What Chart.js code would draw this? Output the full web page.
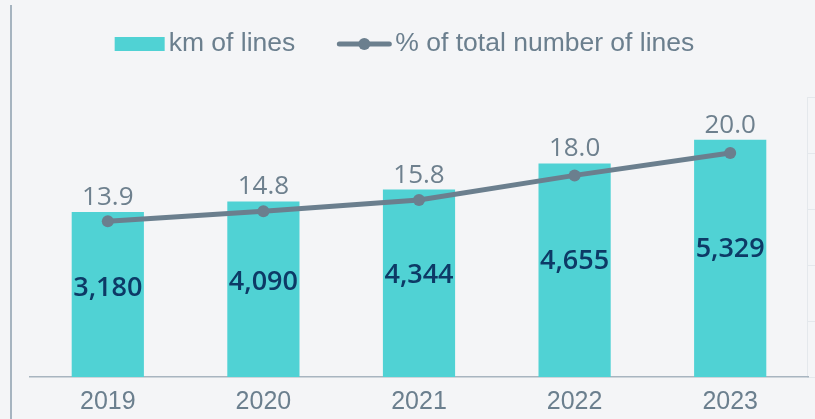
<!DOCTYPE html>
<html>
<head>
<meta charset="utf-8">
<script src="https://cdn.jsdelivr.net/npm/chart.js@4.4.1/dist/chart.umd.min.js"></script>
<style>
  html, body { margin: 0; padding: 0; background: #f4f5f7; }
  #wrap { position: relative; width: 815px; height: 419px; }
</style>
</head>
<body>
<div id="wrap"><canvas id="linesChart" width="815" height="419"></canvas></div>
<script>
var years = ["2019", "2020", "2021", "2022", "2023"];
var kmOfLines = [3180, 4090, 4344, 4655, 5329];
var pctOfLines = [13.9, 14.8, 15.8, 18.0, 20.0];
var pctTicks = [0, 5, 10, 15, 20, 25];

var barColor = "#50d2d4";
var lineColor = "#6b7f8e";

// value labels + legend + left rule, drawn on the canvas
var labelsPlugin = {
  id: 'valueLabels',
  beforeDraw: function(chart) {
    var c = chart.ctx, area = chart.chartArea, y2 = chart.scales.y2;
    c.save();
    // left vertical rule
    c.strokeStyle = "#8d9eae";
    c.lineWidth = 1.5;
    c.beginPath();
    c.moveTo(11, 5);
    c.lineTo(11, chart.height);
    c.stroke();
    // faint box on the right edge
    c.strokeStyle = "#e4e8ec";
    c.lineWidth = 1;
    pctTicks.forEach(function(t) {
      var py = Math.round(y2.getPixelForValue(t)) + 0.5;
      c.beginPath();
      c.moveTo(area.right - 1, py);
      c.lineTo(chart.width, py);
      c.stroke();
    });
    c.beginPath();
    c.moveTo(area.right - 0.5, y2.getPixelForValue(25));
    c.lineTo(area.right - 0.5, area.bottom);
    c.stroke();
    c.restore();
  },
  afterDatasetsDraw: function(chart) {
    var c = chart.ctx;
    var bars = chart.getDatasetMeta(1).data;
    c.save();
    c.textAlign = "center";
    bars.forEach(function(bar, i) {
      c.fillStyle = "#6e808e";
      c.font = "500 26px 'Open Sans'";
      c.textBaseline = "alphabetic";
      c.fillText(pctOfLines[i].toFixed(1), bar.x, bar.y - 7);

      c.fillStyle = "#0d3a66";
      c.font = "600 27px 'Open Sans'";
      c.textBaseline = "middle";
      c.fillText(kmOfLines[i].toLocaleString("en-US"), bar.x, bar.y + (bar.base - bar.y) * 0.46);
    });

    // legend
    var ds = chart.data.datasets;
    c.font = "26.5px 'Liberation Sans'";
    c.textBaseline = "middle";
    c.textAlign = "left";
    var ly = 44, boxW = 50, lineW = 54, gap = 4, itemGap = 42;
    var w1 = c.measureText(ds[1].label).width;
    var w2 = c.measureText(ds[0].label).width;
    var total = boxW + gap + w1 + itemGap + lineW + gap + w2;
    var x = chart.width / 2 - 3 - total / 2;
    c.fillStyle = barColor;
    c.fillRect(x, ly - 7, boxW, 14);
    x += boxW + gap;
    c.fillStyle = "#6b7f8e";
    c.fillText(ds[1].label, x, ly);
    x += w1 + itemGap;
    c.strokeStyle = lineColor;
    c.lineWidth = 5;
    c.lineCap = "round";
    c.beginPath();
    c.moveTo(x + 2, ly);
    c.lineTo(x + lineW - 2, ly);
    c.stroke();
    c.fillStyle = lineColor;
    c.beginPath();
    c.arc(x + lineW / 2, ly, 6, 0, Math.PI * 2);
    c.fill();
    x += lineW + gap;
    c.fillStyle = "#6b7f8e";
    c.fillText(ds[0].label, x, ly);
    c.restore();
  }
};

var ctx = document.getElementById("linesChart").getContext('2d');
var linesChart = new Chart(ctx, {
  type: 'bar',
  data: {
    labels: years,
    datasets: [{
      type: 'line',
      label: "% of total number of lines",
      data: pctOfLines,
      yAxisID: 'y2',
      borderColor: lineColor,
      backgroundColor: lineColor,
      borderWidth: 5,
      pointRadius: 6,
      pointHoverRadius: 6,
      pointBackgroundColor: lineColor,
      pointBorderWidth: 0,
      tension: 0,
      order: 0
    }, {
      type: 'bar',
      label: "km of lines",
      data: pctOfLines,
      yAxisID: 'y',
      backgroundColor: barColor,
      categoryPercentage: 0.8,
      barPercentage: 0.58,
      order: 1
    }]
  },
  plugins: [labelsPlugin],
  options: {
    responsive: false,
    animation: false,
    layout: { padding: { top: 97, left: 30, right: 7, bottom: -8 } },
    plugins: {
      legend: { display: false },
      tooltip: { enabled: false }
    },
    scales: {
      x: {
        grid: { display: false, drawTicks: false },
        border: { display: true, color: "#a8b5c0", width: 1.5 },
        ticks: {
          color: "#6b7f8e",
          padding: 10,
          font: { family: "'Liberation Sans'", size: 25 }
        }
      },
      y: {
        display: false,
        min: 0,
        max: 23.6
      },
      y2: {
        display: false,
        min: 0,
        max: 25,
        ticks: { stepSize: 5 }
      }
    }
  }
});
</script>
</body>
</html>
